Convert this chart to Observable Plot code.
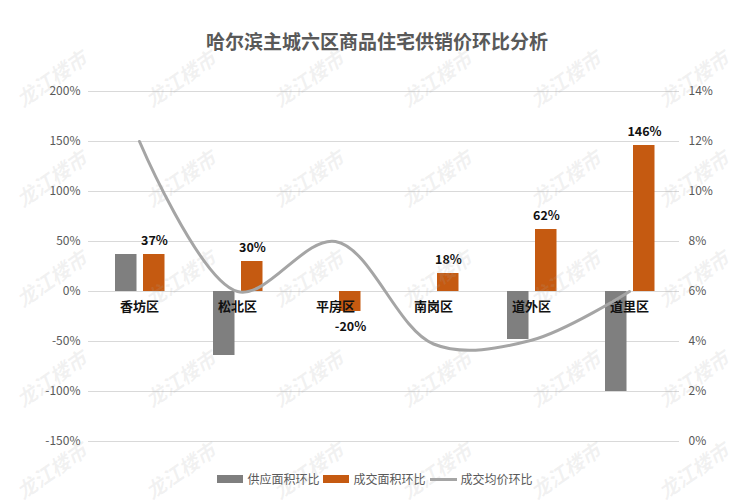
<!DOCTYPE html>
<html><head><meta charset="utf-8">
<script src="https://cdn.jsdelivr.net/npm/d3@7"></script>
<script src="https://cdn.jsdelivr.net/npm/@observablehq/plot@0.6"></script>
<style>
body{margin:0;background:#fff;font-family:"Noto Sans CJK SC","Noto Sans",sans-serif;}
#wrap{position:relative;width:742px;height:504px;overflow:hidden;background:#fff}
#title{position:absolute;top:28px;left:6px;width:742px;text-align:center;font-size:19px;font-weight:bold;color:#595959;line-height:26px}
#chart{position:absolute;top:70px;left:0}
#legend{position:absolute;top:470px;left:6px;width:742px;display:flex;justify-content:center;align-items:center;font-size:12px;color:#595959;line-height:18px}
#legend .sw{display:inline-block;width:26px;height:8px;margin-right:4px}
#legend .ln{display:inline-block;width:27px;height:3px;background:#a5a5a5;margin-right:4px}
#legend .it{display:flex;align-items:center;margin-right:4px}
.wm{position:absolute;font-size:20px;font-weight:bold;font-style:italic;color:rgba(170,170,170,0.16);transform:translate(-50%,-50%) rotate(-35deg);white-space:nowrap;pointer-events:none}
</style></head>
<body>
<div id="wrap">
  <div id="title">哈尔滨主城六区商品住宅供销价环比分析</div>
  <div id="chart"></div>
  <div id="legend">
    <span class="it"><span class="sw" style="background:#7f7f7f"></span>供应面积环比</span>
    <span class="it"><span class="sw" style="background:#c55a11"></span>成交面积环比</span>
    <span class="it"><span class="ln"></span>成交均价环比</span>
  </div>
</div>
<script>
const districts = ["香坊区","松北区","平房区","南岗区","道外区","道里区"];
const supplyArea = [37, -64, 0, 0, -48, -100];   // 供应面积环比 (%)
const dealArea = [37, 30, -20, 18, 62, 146];      // 成交面积环比 (%)
const avgPrice = [12, 6, 8, 3.9, 4.05, 6];         // 成交均价环比 (%), right axis
const leftTicks = [-150, -100, -50, 0, 50, 100, 150, 200];
const rightTicks = [0, 2, 4, 6, 8, 10, 12, 14];

// right axis (0%..14%) mapped onto left axis (-150%..200%)
const toLeft = v => (v - 6) * 25;

const rows = districts.map((d, i) => ({d, supply: supplyArea[i], deal: dealArea[i], price: avgPrice[i]}));

const chart = Plot.plot({
  width: 742,
  height: 390,
  marginLeft: 88,
  marginRight: 63,
  marginTop: 21,
  marginBottom: 19,
  style: {fontFamily: '"Noto Sans CJK SC","Noto Sans",sans-serif', fontSize: "12px", color: "#595959", background: "transparent"},
  x: {domain: districts, padding: 0, axis: null},
  y: {domain: [-150, 200], axis: null},
  marks: [
    Plot.gridY(leftTicks, {stroke: "#d9d9d9", strokeOpacity: 1}),
    Plot.axisY({anchor: "left", ticks: leftTicks, tickFormat: d => d + "%", tickSize: 0, tickPadding: 8, label: null}),
    Plot.axisY({anchor: "right", ticks: rightTicks.map(toLeft), tickFormat: d => (d / 25 + 6) + "%", tickSize: 0, tickPadding: 9, label: null}),
    Plot.barY(rows, {x: "d", y: "supply", fill: "#7f7f7f", insetLeft: 25, insetRight: 51.5}),
    Plot.barY(rows, {x: "d", y: "deal", fill: "#c55a11", insetLeft: 53, insetRight: 23.5}),
    Plot.text(rows, {x: "d", y: 0, text: "d", dy: 15, fontSize: 13, fontWeight: "bold", fill: "#111"}),
    Plot.text(rows.filter(r => r.deal >= 0), {x: "d", y: "deal", text: r => r.deal + "%", dx: 15, dy: -14, fontSize: 12.5, fontWeight: "bold", fill: "#111"}),
    Plot.text(rows.filter(r => r.deal < 0), {x: "d", y: "deal", text: r => r.deal + "%", dx: 15, dy: 15, fontSize: 12.5, fontWeight: "bold", fill: "#111"}),
    Plot.line(rows, {x: "d", y: r => toLeft(r.price), stroke: "#a5a5a5", strokeWidth: 3, curve: "catmull-rom"})
  ]
});
document.getElementById("chart").appendChild(chart);

// watermark "龙江楼市"
const wrap = document.getElementById("wrap");
[51, 180, 308, 436, 565, 693].forEach(x => {
  [78, 178, 278, 378, 470].forEach(y => {
    const el = document.createElement("div");
    el.className = "wm";
    el.textContent = "龙江楼市";
    el.style.left = x + "px";
    el.style.top = y + "px";
    wrap.appendChild(el);
  });
});
</script>
</body></html>
